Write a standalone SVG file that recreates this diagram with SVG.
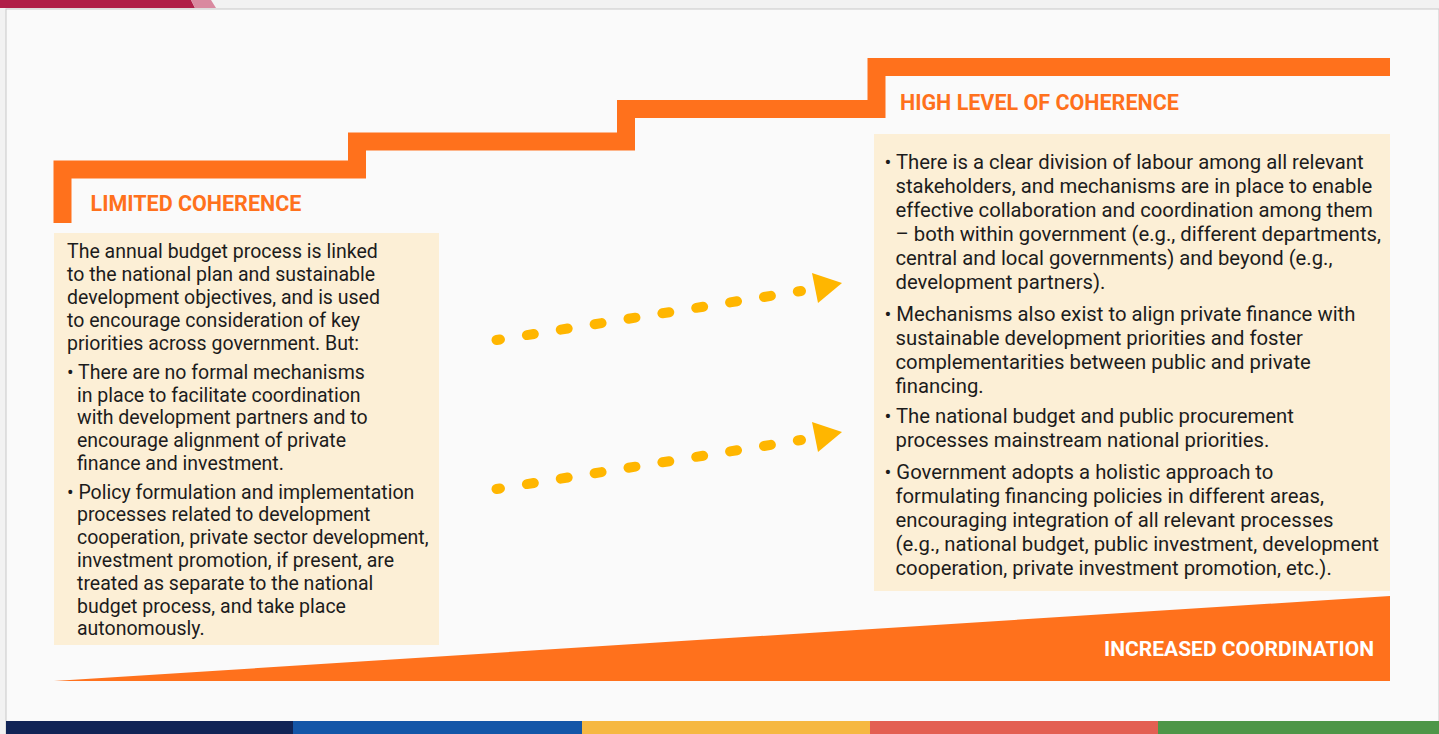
<svg xmlns="http://www.w3.org/2000/svg" width="1439" height="734" viewBox="0 0 1439 734">
<style>
.body{font-family:Roboto,"Liberation Sans",sans-serif;font-size:19.5px;fill:#1c1c1c}
.bodyr{font-family:Roboto,"Liberation Sans",sans-serif;font-size:20.3px;fill:#1c1c1c}
.head{font-family:Roboto,"Liberation Sans",sans-serif;font-size:21.5px;font-weight:bold;fill:#ff711c}
.box{fill:#fcefd6}
.dash{stroke:#ffb600;stroke-width:10;stroke-linecap:round;fill:none}
.tip{fill:#ffb600}
</style>
<defs>
<g id="arrow">
<line class="dash" x1="496.5" y1="340" x2="801" y2="291" stroke-dasharray="7 27.3" stroke-dashoffset="3.5"/>
<polygon class="tip" points="812,273 842,283 818,303"/>
</g>
</defs>
<rect x="0" y="0" width="1439" height="734" fill="#f2f2f2"/>
<g id="frame">
<rect x="6" y="9" width="1433" height="725" fill="#fafafa" stroke="#c8c8c8" stroke-width="1"/>
<polygon points="0,0 191,0 195,8 0,8" fill="#b01f48"/>
<polygon points="191,0 211,0 216,8 195,8" fill="#d98aa0"/>
<rect x="6" y="721" width="287" height="13" fill="#112456"/>
<rect x="293" y="721" width="289" height="13" fill="#1456a8"/>
<rect x="582" y="721" width="288" height="13" fill="#f6b842"/>
<rect x="870" y="721" width="288" height="13" fill="#e35f52"/>
<rect x="1158" y="721" width="281" height="13" fill="#4e9648"/>
</g>
<g id="stairs">
<path d="M62.5,223 V169.5 H357 V141.5 H626 V109 H876.5 V67 H1390" fill="none" stroke="#ff711c" stroke-width="18" stroke-linejoin="miter"/>
</g>
<g id="limited-coherence">
<text class="head" x="90.5" y="210.7">LIMITED COHERENCE</text>
<rect class="box" x="54" y="233" width="385" height="412"/>
<text class="body">
<tspan x="67" y="258.3">The annual budget process is linked</tspan>
<tspan x="67" y="281.1">to the national plan and sustainable</tspan>
<tspan x="67" y="303.9">development objectives, and is used</tspan>
<tspan x="67" y="326.7">to encourage consideration of key</tspan>
<tspan x="67" y="349.5">priorities across government. But:</tspan>
<tspan x="67" y="378.7">• There are no formal mechanisms</tspan>
<tspan x="77" y="401.5">in place to facilitate coordination</tspan>
<tspan x="77" y="424.3">with development partners and to</tspan>
<tspan x="77" y="447.1">encourage alignment of private</tspan>
<tspan x="77" y="469.9">finance and investment.</tspan>
<tspan x="67" y="498.5">• Policy formulation and implementation</tspan>
<tspan x="77" y="521.3">processes related to development</tspan>
<tspan x="77" y="544.1">cooperation, private sector development,</tspan>
<tspan x="77" y="566.9">investment promotion, if present, are</tspan>
<tspan x="77" y="589.7">treated as separate to the national</tspan>
<tspan x="77" y="612.5">budget process, and take place</tspan>
<tspan x="77" y="635.3">autonomously.</tspan>
</text>
</g>
<g id="high-coherence">
<text class="head" x="900" y="109.5">HIGH LEVEL OF COHERENCE</text>
<rect class="box" x="874" y="134" width="516" height="457"/>
<text class="bodyr">
<tspan x="884.5" y="169.3">• There is a clear division of labour among all relevant</tspan>
<tspan x="895.5" y="193.3">stakeholders, and mechanisms are in place to enable</tspan>
<tspan x="895.5" y="217.3">effective collaboration and coordination among them</tspan>
<tspan x="895.5" y="241.3">– both within government (e.g., different departments,</tspan>
<tspan x="895.5" y="265.3">central and local governments) and beyond (e.g.,</tspan>
<tspan x="895.5" y="289.3">development partners).</tspan>
<tspan x="884.5" y="320.5">• Mechanisms also exist to align private finance with</tspan>
<tspan x="895.5" y="344.5">sustainable development priorities and foster</tspan>
<tspan x="895.5" y="368.5">complementarities between public and private</tspan>
<tspan x="895.5" y="392.5">financing.</tspan>
<tspan x="884.5" y="423.3">• The national budget and public procurement</tspan>
<tspan x="895.5" y="447.3">processes mainstream national priorities.</tspan>
<tspan x="884.5" y="478.7">• Government adopts a holistic approach to</tspan>
<tspan x="895.5" y="502.8">formulating financing policies in different areas,</tspan>
<tspan x="895.5" y="526.9">encouraging integration of all relevant processes</tspan>
<tspan x="895.5" y="551">(e.g., national budget, public investment, development</tspan>
<tspan x="895.5" y="575.1">cooperation, private investment promotion, etc.).</tspan>
</text>
</g>
<g id="connectors">
<use href="#arrow"/>
<use href="#arrow" transform="translate(0,149)"/>
</g>
<g id="increased-coordination">
<polygon points="54,681 1390,596 1390,681" fill="#ff711c"/>
<text x="1374" y="656.3" text-anchor="end" font-family="Roboto,'Liberation Sans',sans-serif" font-size="21" font-weight="bold" fill="#ffffff">INCREASED COORDINATION</text>
</g>
</svg>
